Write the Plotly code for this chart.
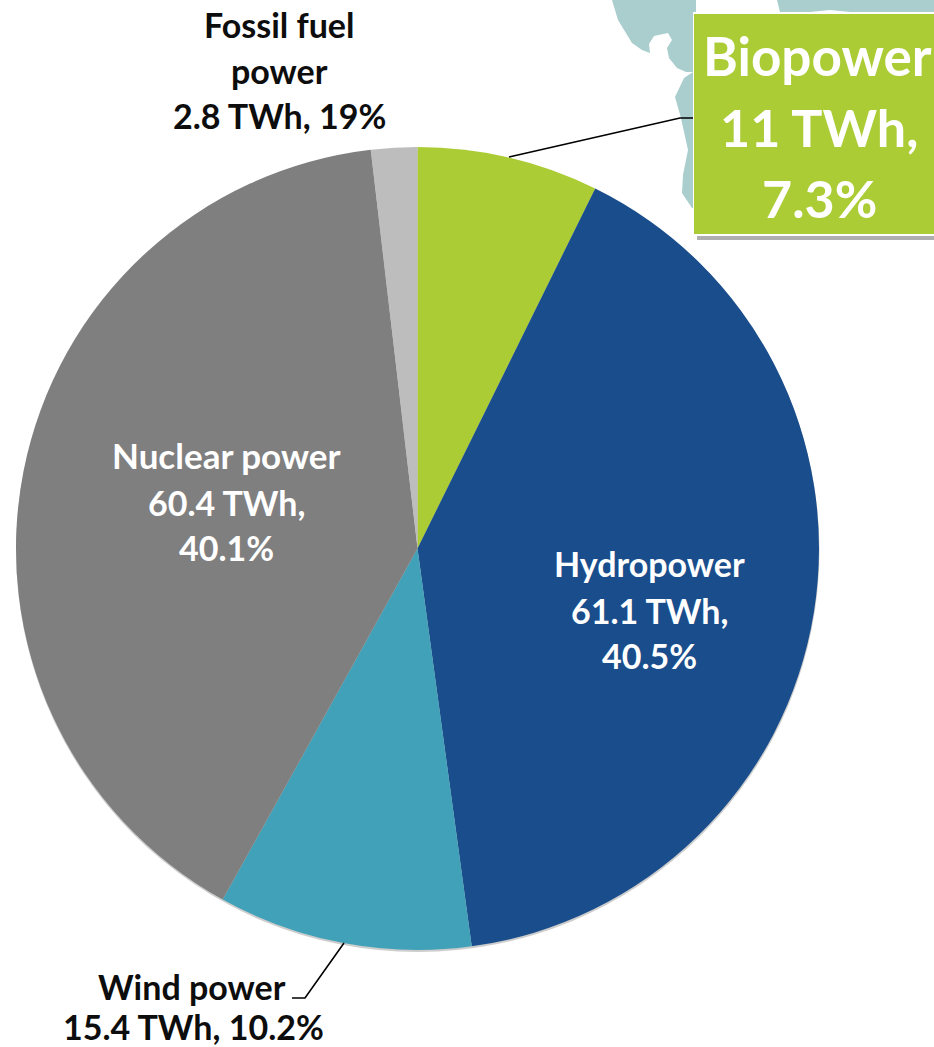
import plotly.graph_objects as go

W, H = 934, 1047
sources = ["Biopower", "Hydropower", "Wind power", "Nuclear power", "Fossil fuel power"]
twh = [11, 61.1, 15.4, 60.4, 2.8]
share_labels = ["7.3%", "40.5%", "10.2%", "40.1%", "19%"]
colors = ["#abcc35", "#194d8c", "#41a1b8", "#7f7f7f", "#bdbdbd"]

FONT = "Lato"
px = lambda x: x / W
py = lambda y: 1 - y / H


def path(points):
    return "M" + " L".join(f"{px(x):.5f},{py(y):.5f}" for x, y in points) + " Z"


fig = go.Figure(go.Pie(
    labels=sources, values=twh, sort=False, direction="clockwise", rotation=0,
    marker=dict(colors=colors, line=dict(width=0)),
    textinfo="none", hoverinfo="label+value", showlegend=False,
    domain=dict(x=[px(16), px(819)], y=[py(950), py(147)]),
))

shapes = []
# faint world map behind the callout
MAP = "#a9cecd"
north_america = [(612, 0), (618, 20), (632, 43), (642, 50), (650, 53), (649, 44), (654, 36), (668, 33),
                 (672, 40), (667, 48), (669, 58), (677, 68), (686, 72), (696, 72), (696, 0)]
south_america = [(696, 70), (684, 78), (675, 97), (681, 118), (688, 150), (683, 175), (682, 193), (692, 208), (696, 208)]
old_world = [(777, 0), (780, 12), (800, 13), (830, 10), (860, 13), (934, 12), (934, 0)]
for poly in (north_america, south_america, old_world):
    shapes.append(dict(type="path", xref="paper", yref="paper", path=path(poly),
                       fillcolor=MAP, line=dict(width=0), layer="below"))
# pie drop shadow
shapes.append(dict(type="circle", xref="paper", yref="paper", x0=px(16), x1=px(819.5), y0=py(952), y1=py(149),
                   fillcolor="rgba(90,90,90,0.3)", line=dict(width=0), layer="below"))
# callout box with shadow
shapes.append(dict(type="rect", xref="paper", yref="paper", x0=px(697), x1=px(940), y0=py(240), y1=py(16),
                   fillcolor="rgba(110,110,110,0.55)", line=dict(width=0), layer="above"))
shapes.append(dict(type="rect", xref="paper", yref="paper", x0=px(693), x1=px(940), y0=py(236), y1=py(12),
                   fillcolor="#ffffff", line=dict(width=0), layer="above"))
shapes.append(dict(type="rect", xref="paper", yref="paper", x0=px(694), x1=px(940), y0=py(234), y1=py(14),
                   fillcolor=colors[0], line=dict(width=0), layer="above"))
# leader lines
for pts in ([(509, 157), (680, 118), (693, 118)], [(344, 943), (305, 998), (292, 998)]):
    shapes.append(dict(type="path", xref="paper", yref="paper",
                       path="M" + " L".join(f"{px(x):.5f},{py(y):.5f}" for x, y in pts),
                       line=dict(color="#000000", width=1.6), layer="above"))


def note(x, y, text, size, color):
    return dict(x=px(x), y=py(y), xref="paper", yref="paper", text=text, showarrow=False,
                xanchor="center", yanchor="middle", align="center", borderpad=0,
                font=dict(family=FONT, size=size, color=color, weight="bold"))


def value_text(i):
    return f"{twh[i]} TWh, {share_labels[i]}"


SMALL = 34
annotations = [
    note(279, 25, "Fossil fuel", SMALL, "#0d0d0d"),
    note(279, 71, "power", SMALL, "#0d0d0d"),
    note(279, 115, value_text(4), SMALL, "#0d0d0d"),
    note(226, 455, sources[3], 35, "#ffffff"),
    note(226, 502, f"{twh[3]} TWh,", SMALL, "#ffffff"),
    note(226, 547, share_labels[3], SMALL, "#ffffff"),
    note(649, 563, sources[1], SMALL, "#ffffff"),
    note(649, 610, f"{twh[1]} TWh,", SMALL, "#ffffff"),
    note(649, 655, share_labels[1], SMALL, "#ffffff"),
    note(192, 986, sources[2], SMALL, "#0d0d0d"),
    note(193, 1026, value_text(2), SMALL, "#0d0d0d"),
    note(817, 55, sources[0], 53, "#ffffff"),
    note(819, 127, f"{twh[0]} TWh,", 52, "#ffffff"),
    note(819, 198, share_labels[0], 52, "#ffffff"),
]

fig.update_layout(width=W, height=H, margin=dict(l=0, r=0, t=0, b=0), autosize=False,
                  paper_bgcolor="#ffffff", shapes=shapes, annotations=annotations,
                  font=dict(family=FONT))
fig.write_html("out.html", config=dict(displayModeBar=False),
               post_script="document.documentElement.style.overflow='hidden';document.body.style.margin='0';")
